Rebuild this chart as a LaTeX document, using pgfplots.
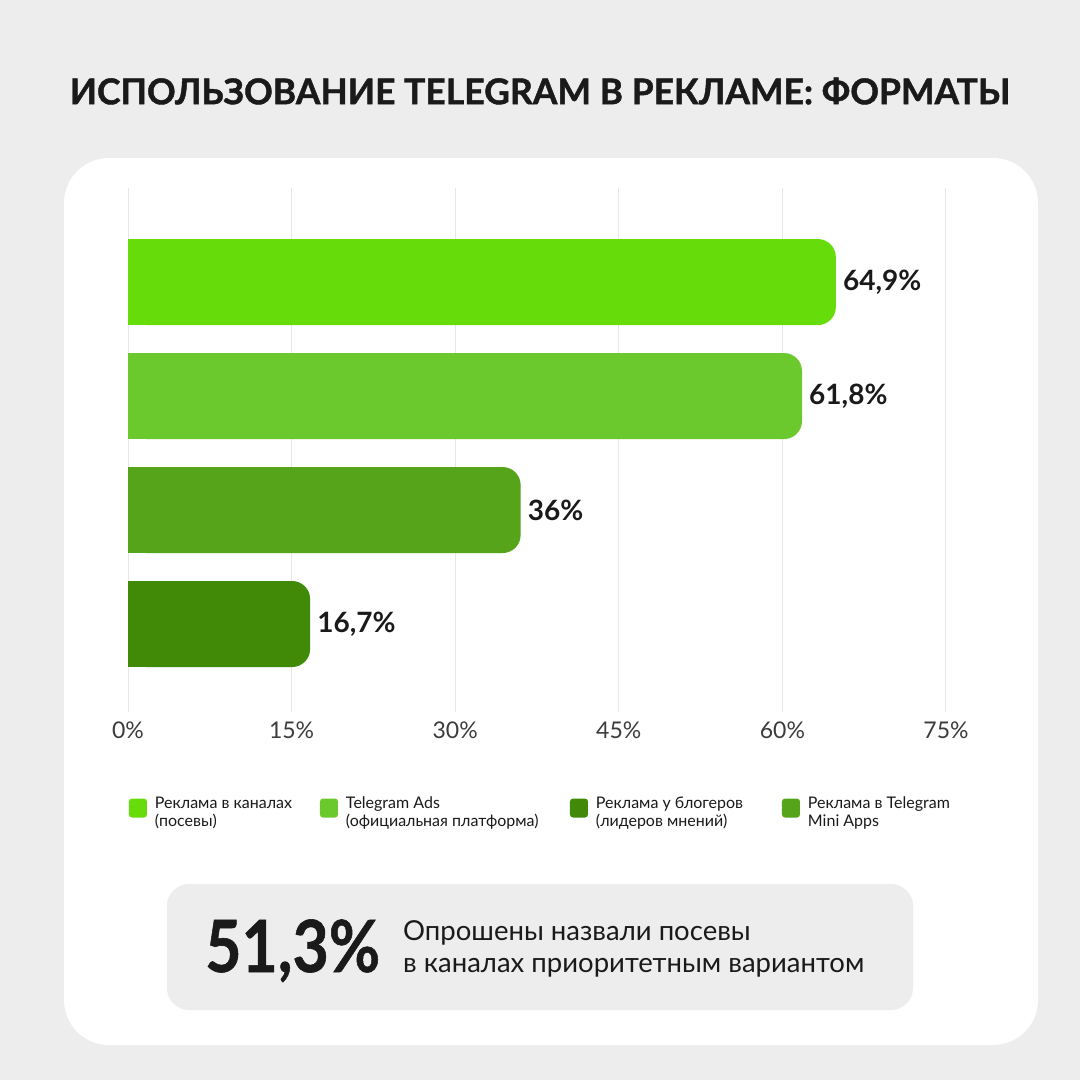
\documentclass[border=0pt]{standalone}
\usepackage{fontspec}
\setmainfont{Lato}
\usepackage{pgfplots}
\pgfplotsset{compat=1.18}
\definecolor{bg}{HTML}{EDEDED}
\definecolor{txt}{HTML}{1A1A1A}
\definecolor{gridc}{HTML}{E6E6E6}
\definecolor{cA}{HTML}{66DD0A}
\definecolor{cB}{HTML}{6CC92D}
\definecolor{cC}{HTML}{55A41A}
\definecolor{cD}{HTML}{418A08}
\begin{document}
\begin{tikzpicture}[x=1pt,y=1pt]
\fill[bg] (0,0) rectangle (1080,-1080);
\fill[white, rounded corners=45pt] (64,-158) rectangle (1038,-1045);
\node[font=\bfseries\fontsize{35.5}{35.5}\selectfont, text=txt] at (540,-91) {\addfontfeatures{FakeBold=1.2}ИСПОЛЬЗОВАНИЕ TELEGRAM В РЕКЛАМЕ: ФОРМАТЫ};
\fill[bg, rounded corners=22pt] (167,-884) rectangle (913,-1010);
\node[anchor=base west, inner sep=0pt, font=\bfseries\fontsize{72}{72}\selectfont, text=txt] at (205,-972) {\scalebox{0.87}[1]{\addfontfeatures{FakeBold=0.8}51,3\%}};
\node[anchor=base west, inner sep=0pt, font=\fontsize{27.5}{27.5}\selectfont, text=txt] at (403,-940) {Опрошены назвали посевы};
\node[anchor=base west, inner sep=0pt, font=\fontsize{27.5}{27.5}\selectfont, text=txt] at (403,-972) {в каналах приоритетным вариантом};
\coordinate (AX) at (128,-712);
\begin{axis}[
  at={(AX)}, anchor=south west,
  scale only axis, width=818pt, height=524pt,
  xmin=0, xmax=75, ymin=-0.825, ymax=3.772, y dir=reverse,
  xtick={0,15,30,45,60,75},
  xticklabels={0\%,15\%,30\%,45\%,60\%,75\%},
  ytick=\empty,
  axis line style={draw=none},
  major tick length=0pt,
  xmajorgrids, grid style={draw=gridc, line width=1pt},
  xticklabel style={font=\fontsize{23}{23}\selectfont, text=txt!85, inner sep=0pt, anchor=north, yshift=-10pt},
  xbar, bar width=86pt, bar shift=0pt,
  clip=false,
  point meta=explicit symbolic,
  every node near coord/.append style={anchor=west, inner sep=0pt, xshift=7pt, font=\bfseries\fontsize{28}{28}\selectfont, text=txt},
  legend columns=4,
  legend cell align=left,
  legend style={at={(0.0012,-0.162)}, anchor=north west, draw=none, fill=none, inner sep=0pt, outer sep=0pt,
    nodes={inner sep=0pt, font=\fontsize{16}{18}\selectfont, text=txt}, /tikz/column sep=0pt},
  legend image code/.code={\fill[rounded corners=3pt] (0pt,-14pt) rectangle (18pt,5pt); \path (26pt,0pt);},
]
\addplot[fill=cA, draw=none, rounded corners=18pt, nodes near coords] coordinates {(64.9,0) [64,9\%]};
\addlegendentry{\parbox[t]{165pt}{Реклама в каналах\\(посевы)}}
\addplot[fill=cB, draw=none, rounded corners=18pt, nodes near coords] coordinates {(61.8,1) [61,8\%]};
\addlegendentry{\parbox[t]{224pt}{Telegram Ads\\(официальная платформа)}}
\addplot[fill=cD, draw=none, rounded corners=18pt, nodes near coords] coordinates {(16.7,3) [16,7\%]};
\addlegendentry{\parbox[t]{186pt}{Реклама у блогеров\\(лидеров мнений)}}
\addplot[fill=cC, draw=none, rounded corners=18pt, nodes near coords] coordinates {(36,2) [36\%]};
\addlegendentry{\parbox[t]{175pt}{Реклама в Telegram\\Mini Apps}}
% square off the left ends of the bars
\addplot[fill=cA, draw=none, forget plot] coordinates {(5,0)};
\addplot[fill=cB, draw=none, forget plot] coordinates {(5,1)};
\addplot[fill=cC, draw=none, forget plot] coordinates {(5,2)};
\addplot[fill=cD, draw=none, forget plot] coordinates {(5,3)};
\end{axis}
\end{tikzpicture}
\end{document}
